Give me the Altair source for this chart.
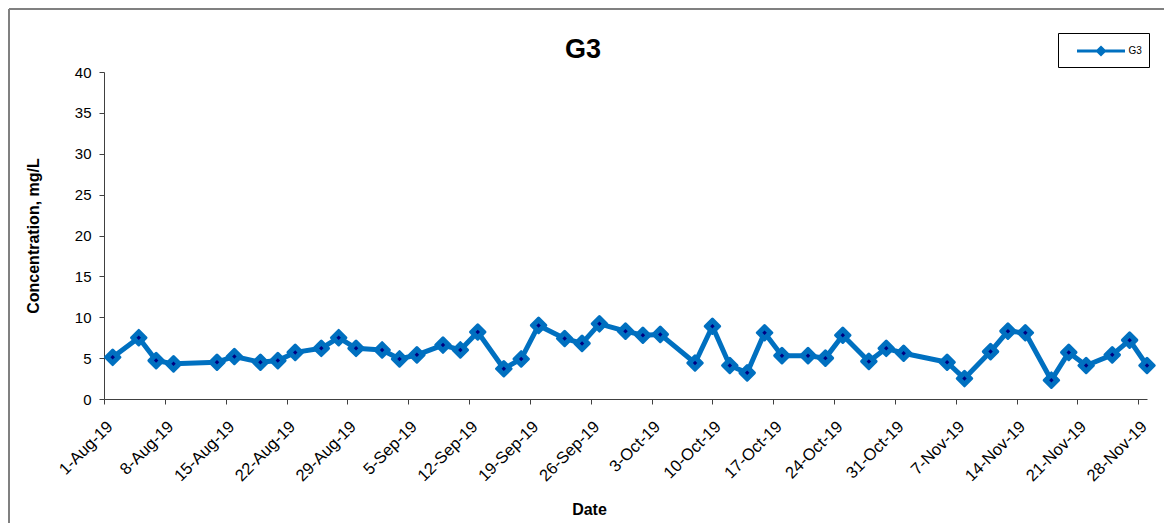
import altair as alt
import pandas as pd

dates = [
    "2019-08-02", "2019-08-05", "2019-08-07", "2019-08-09", "2019-08-14", "2019-08-16",
    "2019-08-19", "2019-08-21", "2019-08-23", "2019-08-26", "2019-08-28", "2019-08-30",
    "2019-09-02", "2019-09-04", "2019-09-06", "2019-09-09", "2019-09-11", "2019-09-13",
    "2019-09-16", "2019-09-18", "2019-09-20", "2019-09-23", "2019-09-25", "2019-09-27",
    "2019-09-30", "2019-10-02", "2019-10-04", "2019-10-08", "2019-10-10", "2019-10-12",
    "2019-10-14", "2019-10-16", "2019-10-18", "2019-10-21", "2019-10-23", "2019-10-25",
    "2019-10-28", "2019-10-30", "2019-11-01", "2019-11-06", "2019-11-08", "2019-11-11",
    "2019-11-13", "2019-11-15", "2019-11-18", "2019-11-20", "2019-11-22", "2019-11-25",
    "2019-11-27", "2019-11-29",
]
values = [
    5.1, 7.5, 4.7, 4.3, 4.5, 5.2,
    4.5, 4.7, 5.7, 6.2, 7.5, 6.2,
    6.0, 4.9, 5.4, 6.6, 6.0, 8.2,
    3.7, 4.9, 9.0, 7.4, 6.8, 9.2,
    8.3, 7.8, 7.9, 4.4, 8.9, 4.1,
    3.2, 8.1, 5.3, 5.3, 5.0, 7.8,
    4.6, 6.2, 5.6, 4.5, 2.5, 5.8,
    8.3, 8.1, 2.3, 5.7, 4.1, 5.4,
    7.2, 4.1,
]
tick_dates = [
    "2019-08-01", "2019-08-08", "2019-08-15", "2019-08-22", "2019-08-29",
    "2019-09-05", "2019-09-12", "2019-09-19", "2019-09-26", "2019-10-03",
    "2019-10-10", "2019-10-17", "2019-10-24", "2019-10-31", "2019-11-07",
    "2019-11-14", "2019-11-21", "2019-11-28",
]
x_start = "2019-08-01"
x_end = "2019-11-29"
series_name = "G3"
chart_title = "G3"

BLUE = "#0070C0"
NAVY = "#000080"
AXIS = "#404040"
FONT = "Liberation Sans"

W, H = 1043, 327
PAD = {"left": 96, "top": 64, "right": 17, "bottom": 124}

df = pd.DataFrame({"date": dates, "value": values, "series": series_name})


def dt(s):
    y, m, d = (int(p) for p in s.split("-"))
    return alt.DateTime(year=y, month=m, date=d, utc=True)


x_enc = alt.X(
    "date:T",
    scale=alt.Scale(type="utc", domain=[dt(x_start), dt(x_end)]),
    axis=alt.Axis(
        title="Date",
        values=[dt(t) for t in tick_dates],
        labelExpr="utcFormat(datum.value, '%-d-%b-%y')",
        labelAngle=-45,
        labelAlign="right",
        labelBaseline="top",
        labelPadding=14,
        labelFontSize=16.5,
        labelFont=FONT,
        labelColor="black",
        labelOverlap=False,
        tickSize=5,
        tickColor=AXIS,
        domainColor=AXIS,
        grid=False,
        titleFont=FONT,
        titleFontSize=16,
        titleFontWeight="bold",
        titleX=485,
        titleY=110,
        titleBaseline="middle",
        titleAlign="center",
    ),
)
y_enc = alt.Y(
    "value:Q",
    scale=alt.Scale(domain=[0, 40], nice=False),
    axis=alt.Axis(
        title="Concentration, mg/L",
        values=list(range(0, 41, 5)),
        labelFontSize=15,
        labelFont=FONT,
        labelColor="black",
        labelPadding=8,
        tickSize=5,
        tickColor=AXIS,
        domainColor=AXIS,
        grid=False,
        titleFont=FONT,
        titleFontSize=16,
        titleFontWeight="bold",
        titleX=-71,
        titleY=H / 2,
        titleAngle=-90,
        titleAlign="center",
        titleBaseline="middle",
    ),
)

legend_symbol = "M-2.4,0H2.4M0,-0.35L0.35,0L0,0.35L-0.35,0Z"

line = alt.Chart(df).mark_line(strokeWidth=5, strokeJoin="round").encode(
    x=x_enc,
    y=y_enc,
    color=alt.Color(
        "series:N",
        scale=alt.Scale(range=[BLUE]),
        legend=alt.Legend(
            title=None,
            orient="none",
            legendX=954,
            legendY=-39,
            strokeColor="black",
            padding=6.5,
            symbolType=legend_symbol,
            symbolSize=400,
            symbolOffset=25,
            symbolStrokeWidth=3,
            symbolFillColor=BLUE,
            symbolStrokeColor=BLUE,
            labelFontSize=10,
            labelFont=FONT,
            labelColor="black",
            labelOffset=16,
        ),
    ),
)

diamonds = alt.Chart(df).mark_point(
    shape="diamond", filled=True, size=210, color=BLUE,
    stroke=BLUE, strokeWidth=3, strokeJoin="round", opacity=1,
).encode(x="date:T", y="value:Q")

dots = alt.Chart(df).mark_point(
    shape="diamond", filled=True, size=20, color=NAVY, opacity=1,
).encode(x="date:T", y="value:Q")

title_df = pd.DataFrame({"t": [chart_title]})
title = alt.Chart(title_df).mark_text(
    font=FONT, fontSize=27, fontWeight="bold", color="black",
    align="center", baseline="alphabetic",
).encode(text="t:N", x=alt.value(479), y=alt.value(-14))

frame_top = alt.Chart(df).mark_rule(color="#808080", strokeWidth=1.5).encode(
    x=alt.value(-PAD["left"] + 1), x2=alt.value(W + PAD["right"]),
    y=alt.value(-PAD["top"] + 1),
)
frame_left = alt.Chart(df).mark_rule(color="#808080", strokeWidth=1.5).encode(
    x=alt.value(-PAD["left"] + 1),
    y=alt.value(-PAD["top"] + 1), y2=alt.value(H + PAD["bottom"]),
)

chart = (
    alt.layer(frame_top, frame_left, title, line, diamonds, dots)
    .properties(
        width=W,
        height=H,
        autosize=alt.AutoSizeParams(type="none"),
        padding=PAD,
        background="white",
    )
    .configure_view(stroke=None)
)

chart.save("out.html", embed_options={"renderer": "svg", "actions": False})
